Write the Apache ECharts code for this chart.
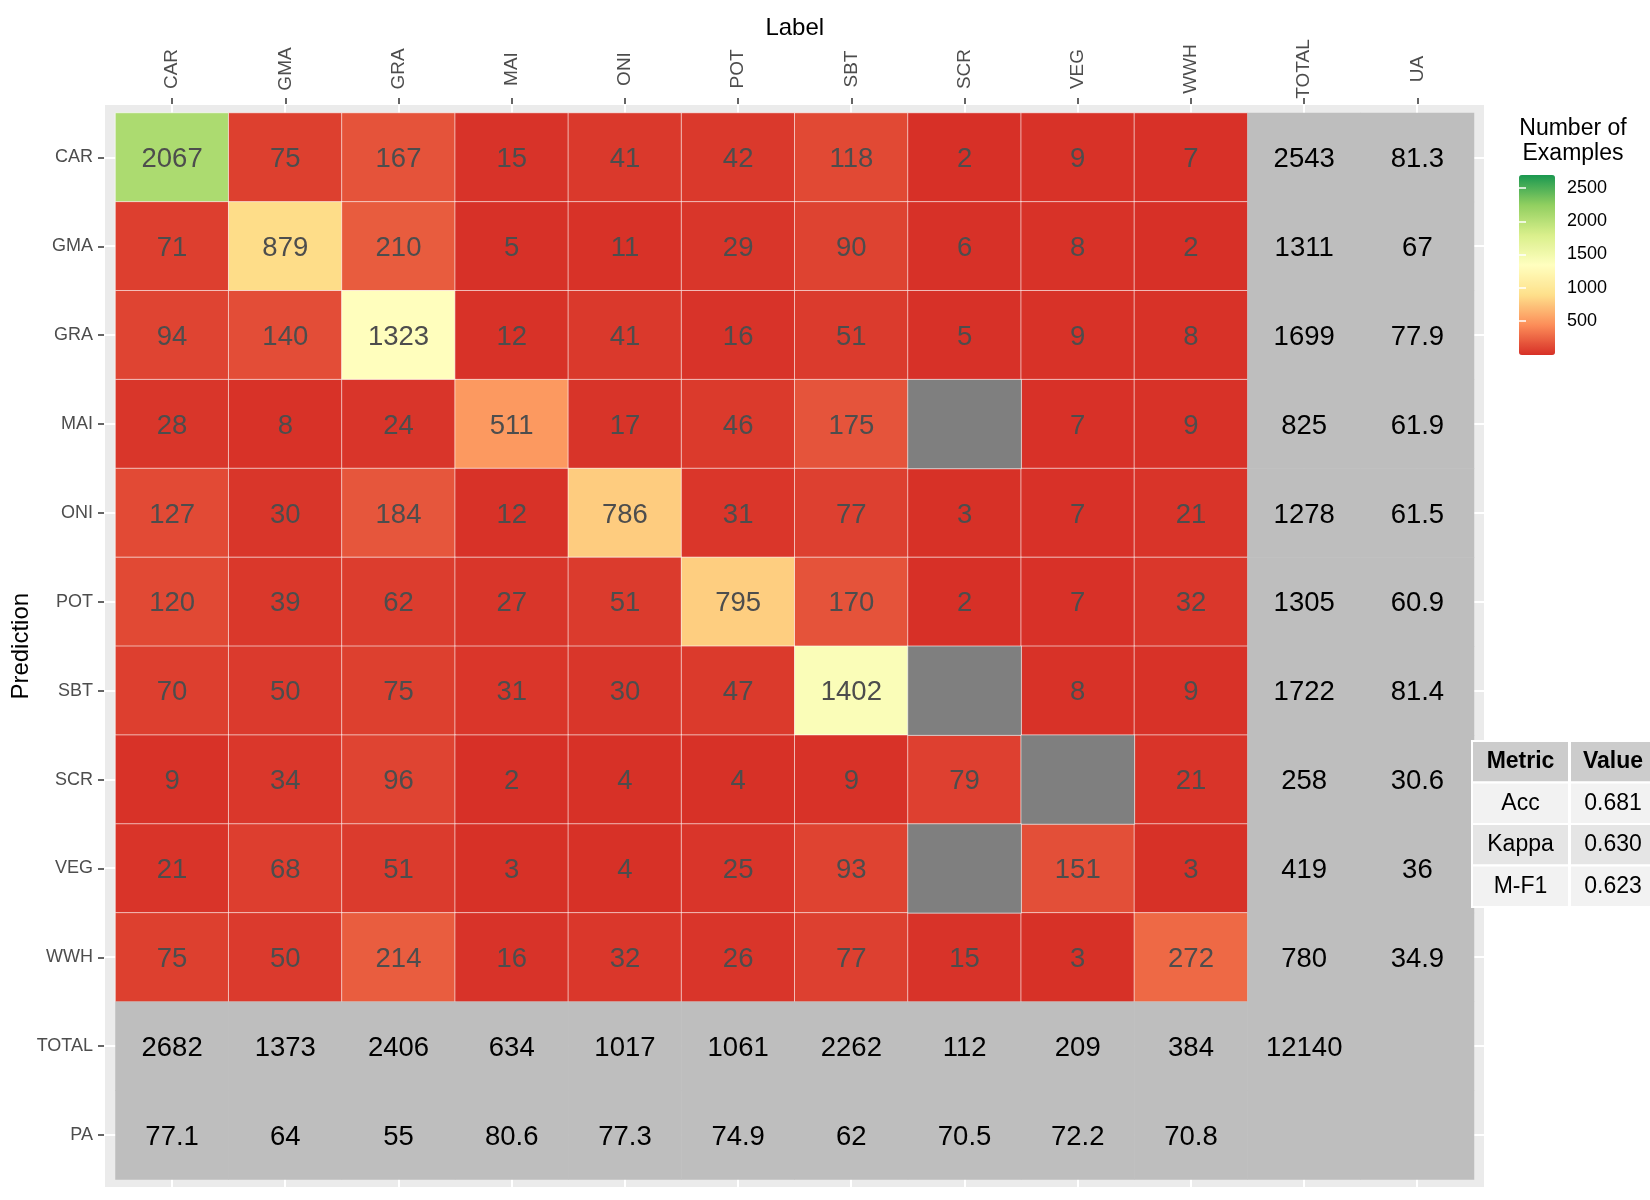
<!DOCTYPE html>
<html>
<head>
<meta charset="utf-8">
<title>Confusion matrix</title>
<script src="https://cdn.jsdelivr.net/npm/echarts@6/dist/echarts.min.js"></script>
<style>
  html, body { margin: 0; padding: 0; background: #fff; }
  #chart { width: 1650px; height: 1200px; }
</style>
</head>
<body>
<div id="chart"></div>
<script>
// class names (Label = columns, Prediction = rows)
const labels = ['CAR', 'GMA', 'GRA', 'MAI', 'ONI', 'POT', 'SBT', 'SCR', 'VEG', 'WWH'];
const colNames = labels.concat(['TOTAL', 'UA']);
const rowNames = labels.concat(['TOTAL', 'PA']);

// rows = prediction, cols = label, null = no examples (grey cell)
const counts = [
  [2067,  75,  167,  15,  41,  42,  118,    2,   9,   7],
  [  71, 879,  210,   5,  11,  29,   90,    6,   8,   2],
  [  94, 140, 1323,  12,  41,  16,   51,    5,   9,   8],
  [  28,   8,   24, 511,  17,  46,  175, null,   7,   9],
  [ 127,  30,  184,  12, 786,  31,   77,    3,   7,  21],
  [ 120,  39,   62,  27,  51, 795,  170,    2,   7,  32],
  [  70,  50,   75,  31,  30,  47, 1402, null,   8,   9],
  [   9,  34,   96,   2,   4,   4,    9,   79, null, 21],
  [  21,  68,   51,   3,   4,  25,   93, null, 151,   3],
  [  75,  50,  214,  16,  32,  26,   77,   15,   3, 272]
];
const rowTotals = [2543, 1311, 1699, 825, 1278, 1305, 1722, 258, 419, 780];
const userAcc = [81.3, 67, 77.9, 61.9, 61.5, 60.9, 81.4, 30.6, 36, 34.9];
const colTotals = [2682, 1373, 2406, 634, 1017, 1061, 2262, 112, 209, 384];
const prodAcc = [77.1, 64, 55, 80.6, 77.3, 74.9, 62, 70.5, 72.2, 70.8];
const grandTotal = 12140;

const metricNames = ['Acc', 'Kappa', 'M-F1'];
const metricValues = ['0.681', '0.630', '0.623'];

const colorMin = 0;
const colorMax = 2682;
const legendTickMin = 500;
const legendTickMax = 2500;
const legendStep = 500;

const FONT = "'Liberation Sans', Arial, sans-serif";
const palette = ['#D73027', '#FC8D59', '#FEE08B', '#FFFFBF', '#D9EF8B', '#91CF60', '#1A9850'];

// build heatmap data
const cellData = [];
const naData = [];
counts.forEach((row, i) => {
  row.forEach((v, j) => {
    if (v === null) naData.push([j, i, 0]);
    else cellData.push([j, i, v]);
  });
});

const nL = labels.length;
const totalData = [];
for (let i = 0; i < nL; i++) {
  totalData.push({ value: [nL, i, 1], txt: String(rowTotals[i]) });
  totalData.push({ value: [nL + 1, i, 1], txt: String(userAcc[i]) });
  totalData.push({ value: [i, nL, 1], txt: String(colTotals[i]) });
  totalData.push({ value: [i, nL + 1, 1], txt: String(prodAcc[i]) });
}
totalData.push({ value: [nL, nL, 1], txt: String(grandTotal) });
totalData.push({ value: [nL + 1, nL, 1], txt: '' });
totalData.push({ value: [nL, nL + 1, 1], txt: '' });
totalData.push({ value: [nL + 1, nL + 1, 1], txt: '' });

// metric table (drawn as graphic)
const tblX = [1472, 1570];
const tblW = [97, 86];
const tblTop = 741;
const tblRowH = 41.5;
const tblRows = [['Metric', 'Value']].concat(metricNames.map((m, i) => [m, metricValues[i]]));
const tableEls = [];
tblRows.forEach((r, ri) => {
  r.forEach((t, ci) => {
    const fill = ri === 0 ? '#CCCCCC' : (ri % 2 === 1 ? '#F2F2F2' : '#E5E5E5');
    tableEls.push({
      type: 'rect', z: 20,
      shape: { x: tblX[ci], y: tblTop + ri * tblRowH, width: tblW[ci], height: tblRowH },
      style: { fill: fill, stroke: '#fff', lineWidth: 2 }
    });
    tableEls.push({
      type: 'text', z: 21,
      x: tblX[ci] + tblW[ci] / 2, y: tblTop + ri * tblRowH + tblRowH / 2,
      style: {
        text: t, align: 'center', verticalAlign: 'middle', fill: '#000',
        fontSize: 23, fontWeight: ri === 0 ? 'bold' : 'normal', fontFamily: FONT
      }
    });
  });
});

const hiddenAxis = {
  axisLine: { show: false }, axisTick: { show: false }, axisLabel: { show: false }
};

const chart = echarts.init(document.getElementById('chart'));
chart.setOption({
  backgroundColor: '#fff',
  animation: false,
  textStyle: { fontFamily: FONT },
  grid: [
    // panel background
    { left: 104, top: 104, width: 1381, height: 1084, show: true, backgroundColor: '#EBEBEB',
      borderWidth: 0, z: -1, outerBoundsMode: 'none', containLabel: false },
    // tiles
    { left: 115.5, top: 113, width: 1358.5, height: 1066.5, outerBoundsMode: 'none', containLabel: false },
    // colour bar labels
    { left: 1519, top: 188, width: 36, height: 133, outerBoundsMode: 'none', containLabel: false }
  ],
  xAxis: [
    Object.assign({
      gridIndex: 0, type: 'value', min: -0.6, max: 11.6, splitNumber: 12, z: -1,
      splitLine: { lineStyle: { color: '#fff', width: 2 } }
    }, hiddenAxis),
    {
      gridIndex: 1, type: 'category', data: colNames, position: 'top', offset: 9, z: 5,
      axisLine: { show: false },
      axisTick: { show: true, alignWithLabel: true, length: 6, lineStyle: { color: '#333', width: 1.5 } },
      axisLabel: {
        interval: 0, rotate: -90, align: 'center', verticalAlign: 'middle',
        margin: 35, fontSize: 19, color: '#4D4D4D'
      },
      splitLine: { show: false },
      name: 'Label', nameLocation: 'middle', nameGap: 64, nameMoveOverlap: false,
      nameTextStyle: { fontSize: 24, color: '#000' }
    },
    Object.assign({ gridIndex: 2, type: 'value', splitLine: { show: false } }, hiddenAxis)
  ],
  yAxis: [
    Object.assign({
      gridIndex: 0, type: 'value', min: -0.6, max: 11.6, splitNumber: 12, inverse: true, z: -1,
      splitLine: { lineStyle: { color: '#fff', width: 2 } }
    }, hiddenAxis),
    {
      gridIndex: 1, type: 'category', data: rowNames, inverse: true, offset: 11.5, z: 5,
      axisLine: { show: false },
      axisTick: { show: true, alignWithLabel: true, length: 6, lineStyle: { color: '#333', width: 1.5 } },
      axisLabel: { interval: 0, margin: 11, fontSize: 18, color: '#4D4D4D' },
      splitLine: { show: false },
      name: 'Prediction', nameLocation: 'middle', nameGap: 71, nameMoveOverlap: false,
      nameTextStyle: { fontSize: 24, color: '#000' }
    },
    {
      gridIndex: 2, type: 'value', position: 'right', min: legendTickMin, max: legendTickMax,
      interval: legendStep, z: 10,
      axisLine: { show: false }, splitLine: { show: false },
      axisTick: { inside: true, length: 7, lineStyle: { color: '#fff', width: 1.5 } },
      axisLabel: { margin: 12, fontSize: 18, color: '#000', formatter: v => String(v) }
    },
    {
      gridIndex: 2, type: 'value', position: 'left', min: legendTickMin, max: legendTickMax,
      interval: legendStep, z: 10,
      axisLine: { show: false }, splitLine: { show: false },
      axisTick: { inside: true, length: 7, lineStyle: { color: '#fff', width: 1.5 } },
      axisLabel: { show: false }
    }
  ],
  visualMap: [
    {
      type: 'continuous', seriesIndex: 0, dimension: 2, min: colorMin, max: colorMax,
      calculable: false, orient: 'vertical', left: 1519, top: 175,
      itemWidth: 36, itemHeight: 180, padding: 0, hoverLink: false,
      inRange: { color: palette }
    },
    {
      type: 'continuous', seriesIndex: 1, dimension: 2, min: 0, max: 1, show: false,
      inRange: { color: ['#BEBEBE', '#BEBEBE'] }
    },
    {
      type: 'continuous', seriesIndex: 2, dimension: 2, min: 0, max: 1, show: false,
      inRange: { color: ['#7F7F7F', '#7F7F7F'] }
    }
  ],
  series: [
    {
      type: 'heatmap', xAxisIndex: 1, yAxisIndex: 1, data: cellData,
      itemStyle: { borderColor: 'rgba(255,255,255,0.6)', borderWidth: 1 },
      label: { show: true, fontSize: 27.5, color: '#4D4D4D', offset: [0, 2], formatter: p => p.value[2] },
      emphasis: { disabled: true }
    },
    {
      type: 'heatmap', xAxisIndex: 1, yAxisIndex: 1, data: totalData,
      itemStyle: { borderWidth: 0 },
      label: { show: true, fontSize: 27.5, color: '#000', offset: [0, 2], formatter: p => p.data.txt },
      emphasis: { disabled: true }
    },
    {
      type: 'heatmap', xAxisIndex: 1, yAxisIndex: 1, data: naData,
      itemStyle: { borderColor: 'rgba(255,255,255,0.6)', borderWidth: 1 },
      label: { show: false },
      emphasis: { disabled: true }
    }
  ],
  graphic: [
    {
      type: 'text', x: 1573, y: 141, z: 20,
      style: {
        text: 'Number of\nExamples', align: 'center', verticalAlign: 'middle',
        fontSize: 23, lineHeight: 25, fill: '#000', fontFamily: FONT
      }
    }
  ].concat(tableEls)
});
</script>
</body>
</html>
